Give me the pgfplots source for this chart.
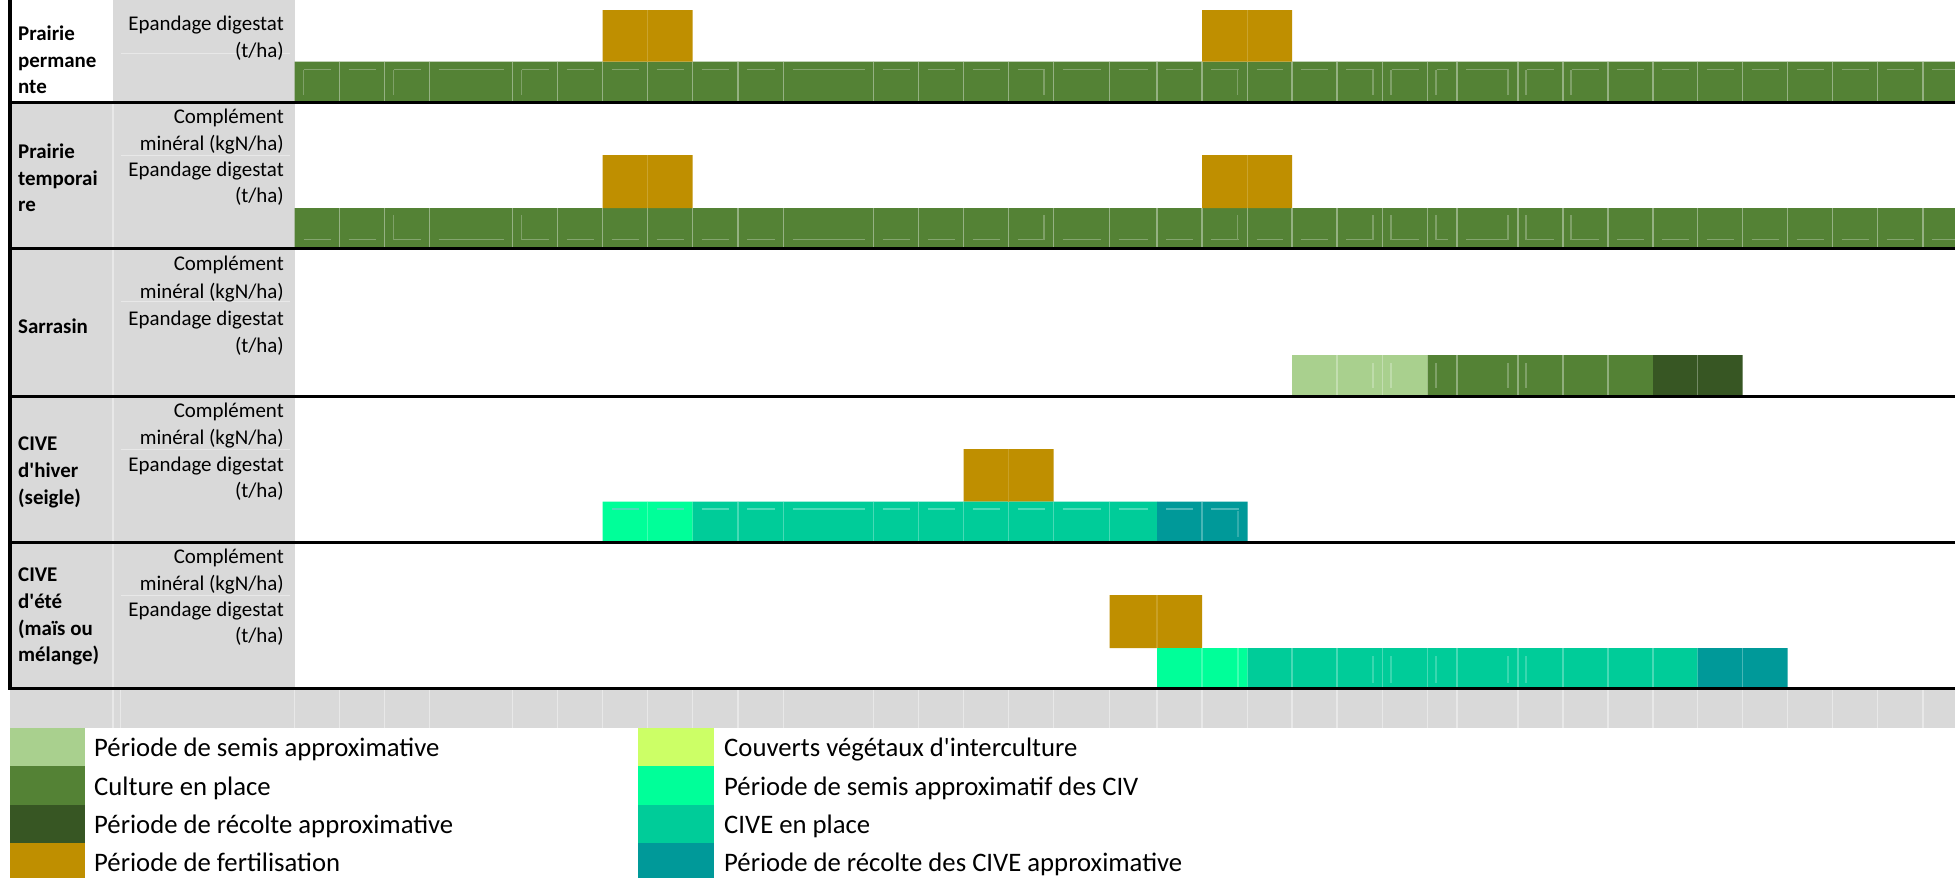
\documentclass[border=0pt]{standalone}
\usepackage{pgfplots}
\pgfplotsset{compat=1.18}
\usepackage{fontspec}
\setmainfont{Carlito}

\definecolor{grisfond}{HTML}{D9D9D9}
\definecolor{grisligne}{HTML}{E8E8E8}
\definecolor{semis}{HTML}{A9D08E}
\definecolor{culture}{HTML}{548235}
\definecolor{recolte}{HTML}{375623}
\definecolor{fertil}{HTML}{BF8F00}
\definecolor{couvert}{HTML}{CCFF66}
\definecolor{semisciv}{HTML}{00FF99}
\definecolor{cive}{HTML}{00CC99}
\definecolor{recoltecive}{HTML}{009999}

% one period of the calendar: colour, start, end, top and bottom of its row
\newcommand{\periode}[5]{%
  \addplot[draw=none, fill=#1] coordinates {(#2,#4) (#3,#4) (#3,#5) (#2,#5) (#2,#4)};}

\newcommand{\etiq}{\fontsize{21}{27}\selectfont}
\newcommand{\leg}{\fontsize{26.8}{32}\selectfont}
\newcommand{\ap}{\textquotesingle}

% cell borders seen through a coloured row: colour, top, bottom, positions
\newcommand{\cloisons}[4]{%
  \edef\listecl{#4}%
  \foreach \xx in \listecl {\draw[#1, line width=1.1bp] (\xx,#2) -- (\xx,#3);}}
% short border marks inside each cell: colour, height, list of cells a/b
\newcommand{\traits}[3]{%
  \edef\listetr{#3}%
  \foreach \aa/\bb in \listetr {\draw[#1, line width=1.4bp] (\aa+9,#2) -- (\bb-9,#2);}}

\def\toutescellules{294.5/339.5, 339.5/384.5, 384.5/429.5, 429.5/512.5, 512.5/557.5, 557.5/602.5, 602.5/647.5, 647.5/692.5, 692.5/738, 738/783.5, 783.5/873.5, 873.5/918.5, 918.5/963.5, 963.5/1008.5, 1008.5/1053.5, 1053.5/1109.5, 1109.5/1157, 1157/1202, 1202/1247.5, 1247.5/1292, 1292/1337, 1337/1382.5, 1382.5/1427.5, 1427.5/1457, 1457/1518, 1518/1563, 1563/1608, 1608/1653, 1653/1697.5, 1697.5/1742.5, 1742.5/1787.5, 1787.5/1832.5, 1832.5/1877.5, 1877.5/1923, 1923/1964}
\def\toutesbornes{339.5,384.5,429.5,512.5,557.5,602.5,647.5,692.5,738,783.5,873.5,918.5,963.5,1008.5,1053.5,1109.5,1157,1202,1247.5,1292,1337,1382.5,1427.5,1457,1518,1563,1608,1653,1697.5,1742.5,1787.5,1832.5,1877.5,1923}

\begin{document}
\begin{tikzpicture}
% sheet background: label columns and bottom band
\begin{scope}[x=1bp, y=-1bp]
  \fill[white] (0,0) rectangle (1955,878);
  \fill[grisfond] (113,0) rectangle (294.5,102);
  \fill[grisfond] (10,102) rectangle (294.5,688);
  \fill[grisfond] (10,688) rectangle (1955,728);
\end{scope}

\begin{axis}[at={(0,0)}, anchor=north west, scale only axis,
  width=1955bp, height=878bp, xmin=0, xmax=1955, ymin=0, ymax=878,
  y dir=reverse, hide axis, clip=false]
% Prairie permanente
\periode{culture}{294.5}{1955}{61.5}{102}
\periode{fertil}{602.5}{692.5}{10}{61.5}
\periode{fertil}{1202}{1292}{10}{61.5}
% Prairie temporaire
\periode{culture}{294.5}{1955}{208}{248}
\periode{fertil}{602.5}{692.5}{155}{208}
\periode{fertil}{1202}{1292}{155}{208}
% Sarrasin
\periode{semis}{1292}{1427.5}{355}{396.5}
\periode{culture}{1427.5}{1653}{355}{396.5}
\periode{recolte}{1653}{1742.5}{355}{396.5}
% CIVE d'hiver (seigle)
\periode{fertil}{963.5}{1053.5}{449}{501.5}
\periode{semisciv}{602.5}{692.5}{501.5}{542}
\periode{cive}{692.5}{1157}{501.5}{542}
\periode{recoltecive}{1157}{1247.5}{501.5}{542}
% CIVE d'ete (mais ou melange)
\periode{fertil}{1109.5}{1202}{595}{648}
\periode{semisciv}{1157}{1247.5}{648}{688}
\periode{cive}{1247.5}{1697.5}{648}{688}
\periode{recoltecive}{1697.5}{1787.5}{648}{688}
\end{axis}

\begin{scope}[x=1bp, y=-1bp]
  % cell borders inside the coloured rows
  \cloisons{culture!62!white}{61.5}{102}{\toutesbornes}
  \cloisons{culture!62!white}{208}{248}{\toutesbornes}
  \traits{culture!72!white}{69.5}{\toutescellules}
  \traits{culture!72!white}{239.5}{\toutescellules}
  \cloisons{culture!75!white}{69.5}{95}{303.5,393.5,521.5,1044,1237.5,1373,1391,1436,1508,1526,1571}
  \cloisons{culture!75!white}{215}{239.5}{393.5,521.5,1044,1237.5,1373,1391,1436,1508,1526,1571}
  \cloisons{fertil!82!white}{10}{61.5}{647.5,1247.5}
  \cloisons{fertil!82!white}{155}{208}{647.5,1247.5}
  \cloisons{fertil!85!white}{449}{501.5}{1008.5}
  \cloisons{fertil!85!white}{595}{648}{1157}
  % Sarrasin
  \cloisons{semis!70!white}{355}{396.5}{1337,1382.5}
  \cloisons{semis!75!white}{363}{388}{1373,1391}
  \cloisons{culture!65!white}{355}{396.5}{1457,1518,1563,1608}
  \cloisons{culture!75!white}{363}{388}{1436,1508,1526}
  \cloisons{recolte!70!white}{355}{396.5}{1697.5}
  % CIVE d'hiver
  \cloisons{semisciv!75!white}{501.5}{542}{647.5}
  \cloisons{cive!72!white}{501.5}{542}{738,783.5,873.5,918.5,963.5,1008.5,1053.5,1109.5}
  \cloisons{recoltecive!72!white}{501.5}{542}{1202}
  \traits{cive!70!white}{509}{602.5/647.5, 647.5/692.5, 692.5/738, 738/783.5, 783.5/873.5, 873.5/918.5, 918.5/963.5, 963.5/1008.5, 1008.5/1053.5, 1053.5/1109.5, 1109.5/1157}
  \traits{recoltecive!70!white}{509}{1157/1202, 1202/1247.5}
  \cloisons{recoltecive!80!white}{511}{537}{1238}
  % CIVE d'ete
  \cloisons{semisciv!75!white}{648}{688}{1202,1238}
  \cloisons{cive!72!white}{648}{688}{1292,1337,1382.5,1427.5,1457,1518,1563,1608,1653}
  \cloisons{cive!78!white}{656}{683}{1373,1391,1436,1508,1526}
  \cloisons{recoltecive!72!white}{648}{688}{1742.5}

  % faint sheet lines in the grey areas
  \cloisons{grisligne}{688}{728}{113,120.5,294.5,\toutesbornes}
  \cloisons{grisligne}{102}{688}{113}
  \foreach \tt in {0,102,248,396.5,542} {
    \draw[grisligne, line width=1bp] (120.5,\tt+53) -- (290,\tt+53);
  }

  % block rules
  \foreach \yy in {102,248,396.5,542,688} {
    \draw[black, line width=3bp] (8.5,\yy) -- (1955,\yy);
  }
  \draw[black, line width=3bp] (10,0) -- (10,689.5);

  % crop names
  \begin{scope}[every node/.style={anchor=base west, inner sep=0pt, font=\etiq\bfseries}]
    \node at (18,40) {Prairie};
    \node at (18,67) {permane};
    \node at (18,93.5) {nte};
    \node at (18,158) {Prairie};
    \node at (18,185) {temporai};
    \node at (18,211) {re};
    \node at (18,333.5) {Sarrasin};
    \node at (18,450.5) {CIVE};
    \node at (18,477.5) {d\ap hiver};
    \node at (18,504) {(seigle)};
    \node at (18,581) {CIVE};
    \node at (18,608) {d\ap été};
    \node at (18,635) {(maïs ou};
    \node at (18,661.5) {mélange)};
  \end{scope}

  % row labels
  \begin{scope}[every node/.style={anchor=base east, inner sep=0pt, font=\etiq}]
    \node at (284,30.5) {Epandage digestat};
    \node at (284,57) {(t/ha)};
    \foreach \tt/\dd in {102/0,248/1.5,396.5/0,542/0} {
      \node at (284,\tt+21+\dd) {Complément};
      \node at (284,\tt+48+1.5*\dd) {minéral (kgN/ha)};
      \node at (284,\tt+74.5+2.2*\dd) {Epandage digestat};
      \node at (284,\tt+100.5+2.8*\dd) {(t/ha)};
    }
  \end{scope}

  % legend
  \fill[semis]       (10,728)   rectangle (85,766.3);
  \fill[culture]     (10,766.3) rectangle (85,804.6);
  \fill[recolte]     (10,804.6) rectangle (85,842.9);
  \fill[fertil]      (10,842.9) rectangle (85,878);
  \fill[couvert]     (638,728)   rectangle (714,766.3);
  \fill[semisciv]    (638,766.3) rectangle (714,804.6);
  \fill[cive]        (638,804.6) rectangle (714,842.9);
  \fill[recoltecive] (638,842.9) rectangle (714,878);
  \begin{scope}[every node/.style={anchor=base west, inner sep=0pt, font=\leg}]
    \node at (94,756.5) {Période de semis approximative};
    \node at (94,795) {Culture en place};
    \node at (94,833) {Période de récolte approximative};
    \node at (94,871.5) {Période de fertilisation};
    \node at (724,756.5) {Couverts végétaux d\ap interculture};
    \node at (724,795) {Période de semis approximatif des CIV};
    \node at (724,833) {CIVE en place};
    \node at (724,871.5) {Période de récolte des CIVE approximative};
  \end{scope}
\end{scope}
\pgfresetboundingbox
\useasboundingbox (0,0) rectangle (1955bp,-878bp);
\end{tikzpicture}
\end{document}
